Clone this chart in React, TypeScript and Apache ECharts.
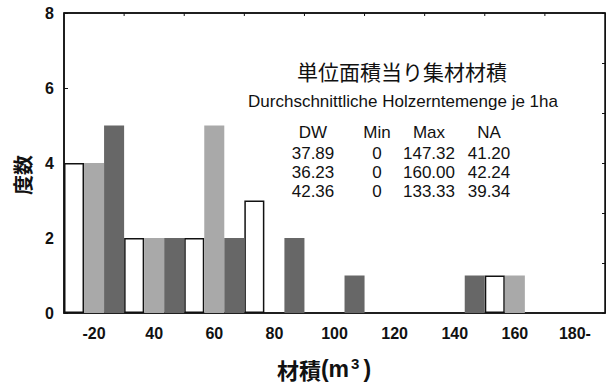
import React, { useEffect, useRef } from "react";
import * as echarts from "echarts";

const categories = ["-20", "40", "60", "80", "100", "120", "140", "160", "180-"];
const whiteCounts = [4, 2, 2, 3, 0, 0, 0, 1, 0];
const lightCounts = [4, 2, 5, 0, 0, 0, 0, 1, 0];
const darkCounts = [5, 2, 2, 2, 1, 0, 1, 0, 0];

const titleJa = "単位面積当り集材材積";
const titleDe = "Durchschnittliche Holzerntemenge je 1ha";
const statsHeader = ["DW", "Min", "Max", "NA"];
const statsRows = [
  ["37.89", "0", "147.32", "41.20"],
  ["36.23", "0", "160.00", "42.24"],
  ["42.36", "0", "133.33", "39.34"],
];
const yAxisName = "度数";
const xAxisNameMain = "材積";
const xAxisUnit = "m";
const xAxisUnitPower = "3";

const LATIN = "'Liberation Sans', Arial, Helvetica, sans-serif";
const CJK = "'Noto Sans CJK JP', 'Noto Sans CJK SC', sans-serif";

export default function App() {
  const ref = useRef<HTMLDivElement>(null);

  useEffect(() => {
    if (!ref.current) return;
    const chart = echarts.init(ref.current, undefined, { renderer: "svg" });

    const colX = [313, 377, 429, 489];
    const rowY = [153, 172, 191];
    const tableTexts: any[] = [];
    statsHeader.forEach((h, i) => {
      tableTexts.push({
        type: "text",
        x: colX[i],
        y: 132,
        style: { text: h, fontSize: 17, fontFamily: LATIN, fill: "#111", align: "center", verticalAlign: "middle" },
      });
    });
    statsRows.forEach((row, r) => {
      row.forEach((v, i) => {
        tableTexts.push({
          type: "text",
          x: colX[i],
          y: rowY[r],
          style: { text: v, fontSize: 17, fontFamily: LATIN, fill: "#111", align: "center", verticalAlign: "middle" },
        });
      });
    });

    const axisLine = { show: true, onZero: false, lineStyle: { color: "#111", width: 1.5 } };

    const baseGraphic: any[] = [
      {
        type: "text",
        x: 402,
        y: 71,
        style: { text: titleJa, fontSize: 21, fontFamily: CJK, fill: "#111", align: "center", verticalAlign: "middle" },
      },
      {
        type: "text",
        x: 403,
        y: 101,
        style: { text: titleDe, fontSize: 17, fontFamily: LATIN, fill: "#111", align: "center", verticalAlign: "middle" },
      },
      ...tableTexts,
      {
        type: "text",
        x: 22,
        y: 175,
        rotation: Math.PI / 2,
        style: { text: yAxisName, fontSize: 20, fontWeight: "bold", fontFamily: CJK, fill: "#111", align: "center", verticalAlign: "middle" },
      },
      {
        type: "text",
        x: 324,
        y: 369,
        style: {
          text: `{a|${xAxisNameMain}}{b|(${xAxisUnit}}{c|${xAxisUnitPower}}{b|)}`,
          align: "center",
          verticalAlign: "middle",
          fill: "#111",
          rich: {
            a: { fontSize: 22, fontWeight: "bold", fontFamily: CJK, lineHeight: 26, verticalAlign: "middle" },
            b: { fontSize: 23, fontWeight: "bold", fontFamily: LATIN, lineHeight: 26, verticalAlign: "middle" },
            c: { fontSize: 15, fontWeight: "bold", fontFamily: LATIN, lineHeight: 26, verticalAlign: "top", padding: [0, 4, 0, 2] },
          },
        },
      },
    ];

    chart.setOption({
      animation: false,
      backgroundColor: "#ffffff",
      grid: {
        left: 64,
        right: 1,
        top: 13,
        bottom: 76,
        containLabel: false,
        show: true,
        borderColor: "#111",
        borderWidth: 1.5,
      },
      xAxis: [
        {
          type: "category",
          data: categories,
          position: "bottom",
          axisLine,
          axisTick: { show: false },
          axisLabel: {
            margin: 12,
            fontSize: 16,
            fontWeight: "bold",
            fontFamily: LATIN,
            color: "#111",
          },
        },
      ],
      yAxis: [
        {
          type: "value",
          min: 0,
          max: 8,
          interval: 2,
          position: "left",
          axisLine,
          axisTick: { show: true, inside: true, length: 4, lineStyle: { color: "#111" } },
          splitLine: { show: false },
          axisLabel: {
            margin: 10,
            fontSize: 16,
            fontWeight: "bold",
            fontFamily: LATIN,
            color: "#111",
          },
        },
        {
          type: "value",
          min: 0,
          max: 6,
          interval: 1,
          position: "right",
          axisLine: { show: true, onZero: false, lineStyle: { color: "#111", width: 1 } },
          axisTick: { show: true, inside: true, length: 3, lineStyle: { color: "#111" } },
          splitLine: { show: false },
          axisLabel: { show: false },
        },
      ],
      series: [
        {
          type: "bar",
          name: "white",
          data: whiteCounts.map((v) => (v === 0 ? null : v)),
          barGap: "0%",
          barCategoryGap: "0%",
          itemStyle: { color: "#ffffff", borderColor: "#111", borderWidth: 1.5 },
        },
        {
          type: "bar",
          name: "light",
          data: lightCounts,
          barGap: "0%",
          barCategoryGap: "0%",
          itemStyle: { color: "#a9a9a9" },
        },
        {
          type: "bar",
          name: "dark",
          data: darkCounts,
          barGap: "0%",
          barCategoryGap: "0%",
          itemStyle: { color: "#676767" },
        },
      ],
      graphic: baseGraphic,
    });

    // Top frame ticks at category boundaries, derived from the grid layout.
    try {
      const rect = (chart as any).getModel().getComponent("grid", 0).coordinateSystem.getRect();
      const frame: any[] = [
        {
          type: "line",
          shape: { x1: rect.x, y1: rect.y, x2: rect.x + rect.width, y2: rect.y },
          style: { stroke: "#111", lineWidth: 1.5 },
          z: 10,
        },
      ];
      const step = rect.width / categories.length;
      for (let i = 1; i < categories.length; i++) {
        const x = rect.x + step * i;
        frame.push({
          type: "line",
          shape: { x1: x, y1: rect.y, x2: x, y2: rect.y + 3 },
          style: { stroke: "#111", lineWidth: 1 },
          z: 10,
        });
      }
      chart.setOption({ graphic: [...baseGraphic, ...frame] });
    } catch (e) {
      // ignore
    }

    return () => chart.dispose();
  }, []);

  return (
    <div
      ref={ref}
      style={{ position: "fixed", left: 0, top: 0, width: 606, height: 389, background: "#fff" }}
    />
  );
}
